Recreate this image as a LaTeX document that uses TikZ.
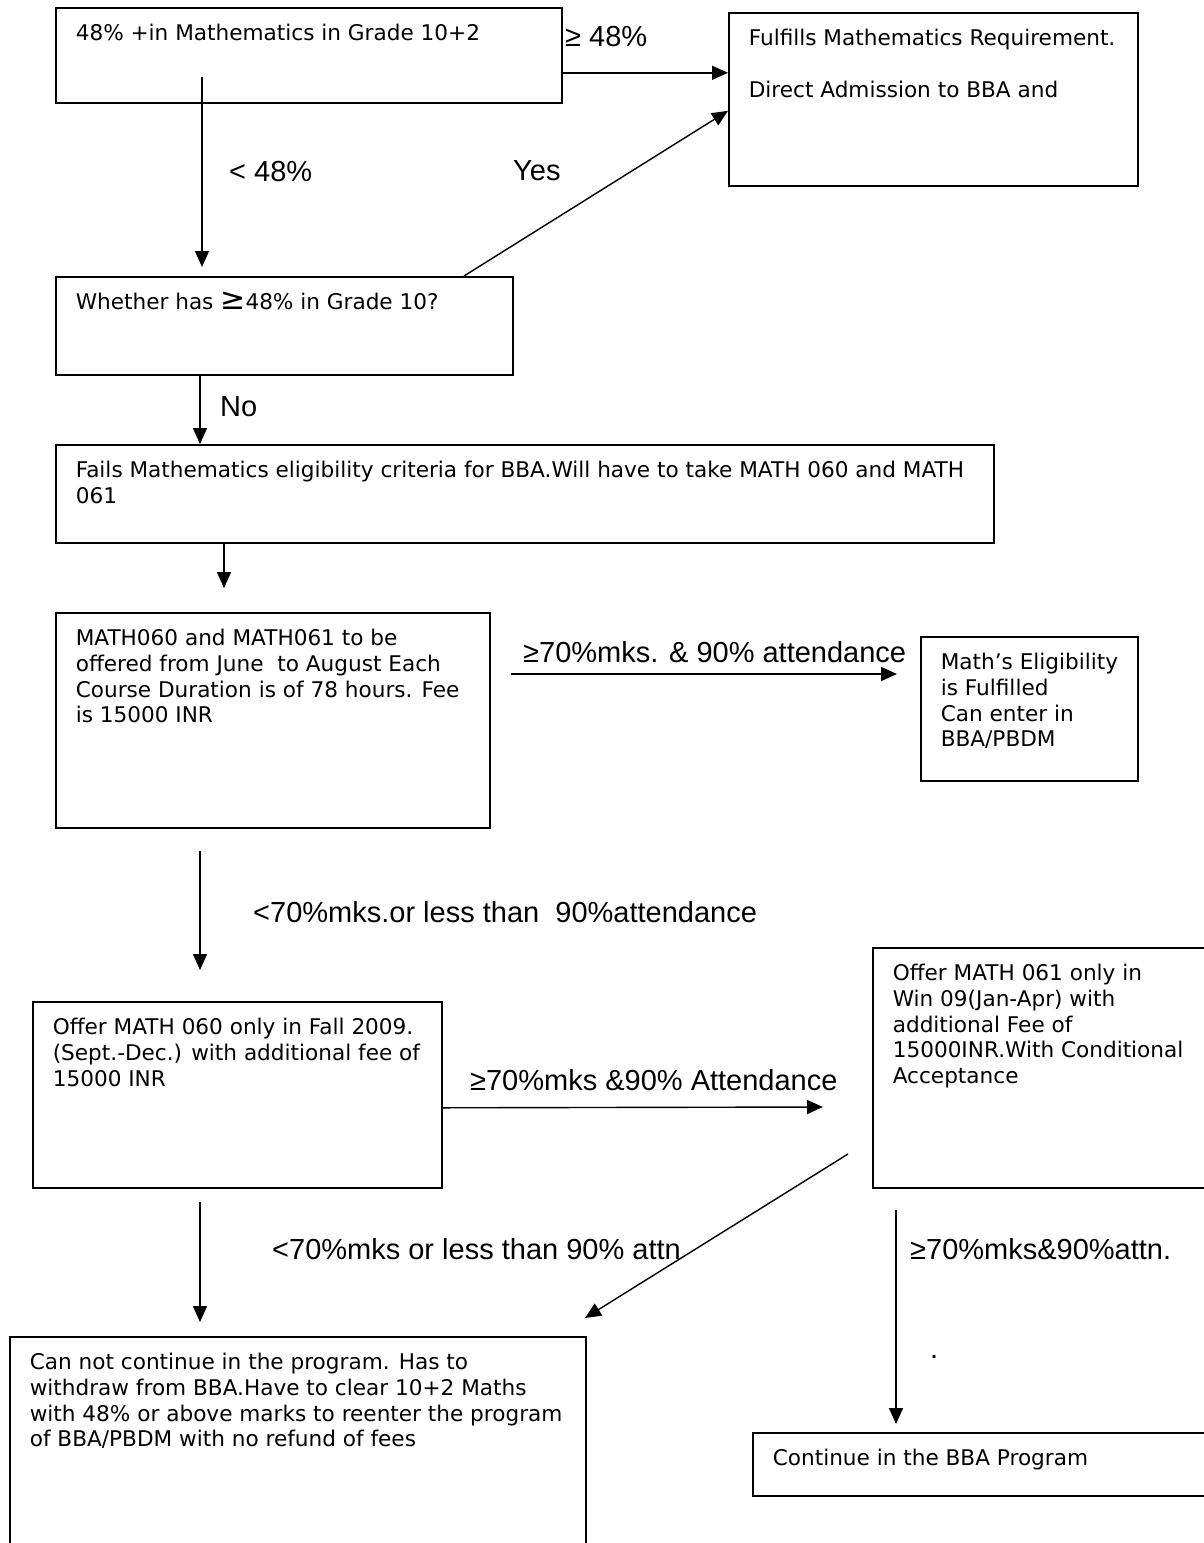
\documentclass[tikz,border=0pt]{standalone}
\usepackage{fontspec}
\setmainfont{Liberation Sans}
\newfontfamily\boxfam{DejaVu Sans}
\usetikzlibrary{arrows.meta}

\newcommand{\boxfont}{\boxfam\fontsize{21.6}{25.6}\selectfont}
\newcommand{\condfont}{\fontsize{29}{34}\selectfont}
% box text: width, height, lines (top left, first baseline 33pt down)
\newcommand{\boxtext}[3]{\parbox[t][#2pt][t]{#1pt}{\raggedright\leftskip=20pt\relax\rule{0pt}{33pt}#3}}

\begin{document}
\begin{tikzpicture}[x=1pt, y=-1pt,
    stage/.style={shape=rectangle, draw=black, line width=1.6pt, inner sep=0pt, anchor=north west, font=\boxfont},
    cond/.style={inner sep=0pt, anchor=west, font=\condfont},
    flow/.style={line width=1.4pt, -{Triangle[length=16pt, width=14pt]}}]
  \path[use as bounding box, fill=white] (0,0) rectangle (1203,1543);

  % boxes
  \node[stage] (req) at (55,7)
       {\boxtext{506}{95}{48\% +in Mathematics in Grade 10+2}};
  \node[stage] (ok) at (728,12)
       {\boxtext{409}{173}{Fulfills Mathematics Requirement.\\[25.6pt]Direct Admission to BBA and}};
  \node[stage] (grade10) at (55,276)
       {\boxtext{457}{98}{Whether has {\fontsize{30}{25.6}\selectfont≥}48\% in Grade 10?}};
  \node[stage] (fails) at (55,444)
       {\boxtext{938}{98}{Fails Mathematics eligibility criteria for BBA.Will have to take MATH 060 and MATH\\061}};
  \node[stage] (summer) at (55,612)
       {\boxtext{434}{215}{MATH060 and MATH061 to be\\offered from June\ \ to August Each\\Course Duration is of 78 hours. Fee\\is 15000 INR}};
  \node[stage] (elig) at (920,636)
       {\boxtext{217}{144}{Math’s Eligibility\\is Fulfilled\\Can enter in\\BBA/PBDM}};
  \node[stage] (fall) at (32,1001)
       {\boxtext{409}{186}{Offer MATH 060 only in Fall 2009.\\(Sept.-Dec.) with additional fee of\\15000 INR}};
  \node[stage] (winter) at (872,947)
       {\boxtext{360}{240}{Offer MATH 061 only in\\Win 09(Jan-Apr) with\\additional Fee of\\15000INR.With Conditional\\Acceptance}};
  \node[stage] (out) at (9,1336)
       {\boxtext{576}{240}{Can not continue in the program. Has to\\withdraw from BBA.Have to clear 10+2 Maths\\with 48\% or above marks to reenter the program\\of BBA/PBDM with no refund of fees}};
  \node[stage] (cont) at (752,1432)
       {\boxtext{480}{63}{Continue in the BBA Program}};

  % conditions
  \node[cond] (geq48) at (565,37) {≥ 48\%};
  \node[cond] (lt48) at (229,172) {< 48\%};
  \node[cond] (yes) at (513,171) {Yes};
  \node[cond] (no) at (220,407) {No};
  \node[cond] (pass1) at (523,652) {≥70\%mks. \& 90\% attendance};
  \node[cond] (fail1) at (253,912) {<70\%mks.or less than\ \ 90\%attendance};
  \node[cond] (pass2) at (470,1080) {≥70\%mks \&90\% Attendance};
  \node[cond] (fail2) at (272,1249) {<70\%mks or less than 90\% attn};
  \node[cond] (pass3) at (910,1249) {≥70\%mks\&90\%attn.};
  \node[cond] (dot) at (930,1357) {.};

  % free arrow ends
  \coordinate (lowA) at (202,77);
  \coordinate (lowB) at (202,267);
  \coordinate (sumIn) at (224,588);
  \coordinate (eligA) at (511,674);
  \coordinate (eligB) at (897,674);
  \coordinate (fallA) at (200,851);
  \coordinate (fallB) at (200,970);
  \coordinate (winIn) at (823,1107);
  \coordinate (backA) at (848,1154);
  \coordinate (backB) at (585,1318);
  \coordinate (outA) at (200,1202);
  \coordinate (outB) at (200,1322);
  \coordinate (contA) at (896,1210);
  \coordinate (contB) at (896,1424);

  % connectors
  \draw[flow] ([yshift=-17.5pt]req.east) -- ([yshift=26.5pt]ok.west);
  \draw[flow] (lowA) -- (lowB);
  \draw[flow] ([xshift=409pt]grade10.north west) -- ([yshift=-11.5pt]ok.west);
  \draw[flow] ([xshift=145pt]grade10.south west) -- ([xshift=145pt]fails.north west);
  \draw[flow] ([xshift=169pt]fails.south west) -- (sumIn);
  \draw[flow] (eligA) -- (eligB);
  \draw[flow] (fallA) -- (fallB);
  \draw[flow] ([yshift=-13pt]fall.east) -- (winIn);
  \draw[flow] (backA) -- (backB);
  \draw[flow] (outA) -- (outB);
  \draw[flow] (contA) -- (contB);
\end{tikzpicture}
\end{document}
